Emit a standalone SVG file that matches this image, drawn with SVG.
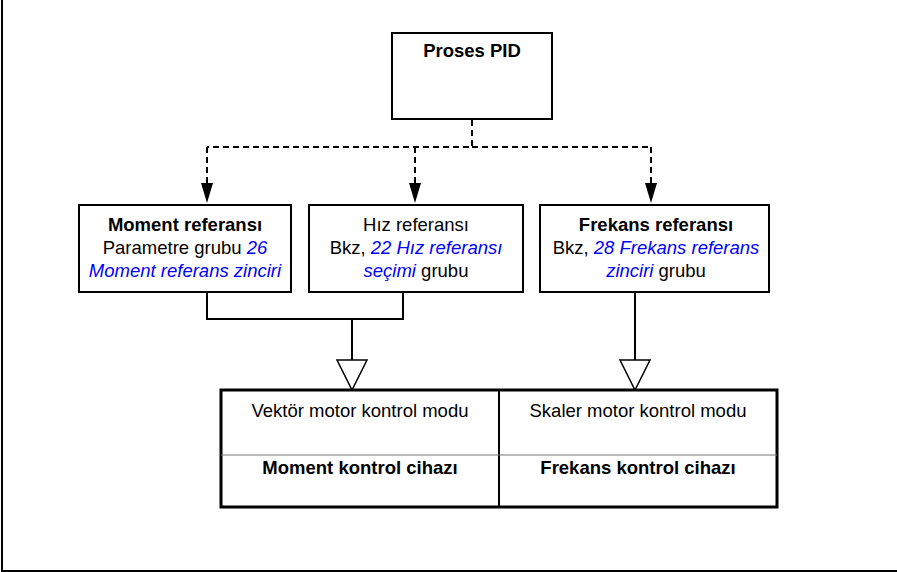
<svg xmlns="http://www.w3.org/2000/svg" width="897" height="572" viewBox="0 0 897 572">
<defs>
<style>
text{font-family:"Liberation Sans",Arial,sans-serif;font-size:18.5px;fill:#000;text-anchor:middle}
.b{font-weight:bold}
.l{fill:#0000ff;font-style:italic}
.box{fill:#fff;stroke:#000;stroke-width:2}
.ln{fill:none;stroke:#000;stroke-width:2}
.dash{fill:none;stroke:#000;stroke-width:2;stroke-dasharray:6 4}
.tri{fill:#fff;stroke:#000;stroke-width:1.5}
.ah{fill:#000}
</style>
</defs>
<rect width="897" height="572" fill="#fff"/>
<path d="M2,0 V571 H897" fill="none" stroke="#000" stroke-width="2"/>
<g id="connectors">
<path class="dash" d="M472,120 V147 H207 M472,147 H651"/>
<path class="dash" d="M207,147 V183"/>
<path class="dash" d="M415,147 V183"/>
<path class="dash" d="M651,147 V183"/>
<path class="ah" d="M201,183 H213 L207,203 Z"/>
<path class="ah" d="M409,183 H421 L415,203 Z"/>
<path class="ah" d="M645,183 H657 L651,203 Z"/>
<path class="ln" d="M207,292 V319 H403 V292 M352,319 V360"/>
<path class="ln" d="M635,292 V360"/>
<path class="tri" d="M337,360 H367 L352,390 Z"/>
<path class="tri" d="M620,360 H650 L635,390 Z"/>
</g>
<g id="proses-pid">
<rect class="box" x="392" y="33" width="160" height="86"/>
<text class="b" x="472" y="57">Proses PID</text>
</g>
<g id="moment-referansi">
<rect class="box" x="79" y="205" width="212" height="87"/>
<text class="b" x="185" y="231">Moment referansı</text>
<text x="185" y="254">Parametre grubu <tspan class="l">26</tspan></text>
<text class="l" x="185" y="277">Moment referans zinciri</text>
</g>
<g id="hiz-referansi">
<rect class="box" x="309" y="205" width="214" height="87"/>
<text x="416" y="231">Hız referansı</text>
<text x="416" y="254">Bkz, <tspan class="l">22 Hız referansı</tspan></text>
<text x="416" y="277"><tspan class="l">seçimi</tspan> grubu</text>
</g>
<g id="frekans-referansi">
<rect class="box" x="540" y="205" width="229" height="87"/>
<text class="b" x="656" y="231">Frekans referansı</text>
<text x="656" y="254">Bkz, <tspan class="l">28 Frekans referans</tspan></text>
<text x="656" y="277"><tspan class="l">zinciri</tspan> grubu</text>
</g>
<g id="kontrol-tablo">
<rect x="221" y="390" width="556" height="117" fill="#fff" stroke="#000" stroke-width="3"/>
<line x1="499" y1="390" x2="499" y2="507" stroke="#000" stroke-width="2"/>
<line x1="221" y1="455" x2="777" y2="455" stroke="#777" stroke-width="1"/>
<text x="360" y="417">Vektör motor kontrol modu</text>
<text class="b" x="360" y="474">Moment kontrol cihazı</text>
<text x="638" y="417">Skaler motor kontrol modu</text>
<text class="b" x="638" y="474">Frekans kontrol cihazı</text>
</g>
</svg>
